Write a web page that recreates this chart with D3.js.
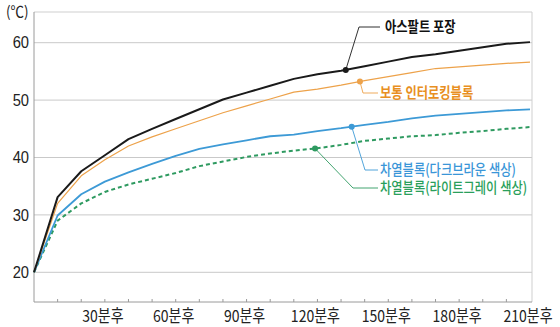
<!DOCTYPE html>
<html>
<head>
<meta charset="utf-8">
<script src="https://cdn.jsdelivr.net/npm/d3@7"></script>
<style>
  html, body { margin: 0; padding: 0; background: #fff; }
  svg { display: block; }
</style>
</head>
<body>
<div id="chart"></div>
<script>
// 시간(분) - 10분 간격
const minutes = [0, 10, 20, 30, 40, 50, 60, 70, 80, 90, 100, 110, 120, 130, 140, 150, 160, 170, 180, 190, 200, 210];

const asphalt = [20, 33.1, 37.6, 40.4, 43.2, 45.0, 46.7, 48.4, 50.1, 51.3, 52.5, 53.7, 54.5, 55.1, 55.9, 56.7, 57.5, 58.0, 58.6, 59.2, 59.8, 60.1];
const normalBlock = [20, 32.0, 36.8, 39.6, 42.0, 43.6, 45.0, 46.4, 47.8, 49.0, 50.2, 51.4, 51.9, 52.6, 53.4, 54.1, 54.8, 55.5, 55.8, 56.1, 56.4, 56.6];
const darkBrown = [20, 29.9, 33.6, 35.8, 37.4, 38.9, 40.3, 41.5, 42.3, 43.0, 43.7, 44.0, 44.6, 45.1, 45.7, 46.2, 46.8, 47.3, 47.6, 47.9, 48.2, 48.4];
const lightGray = [20, 29.0, 32.0, 34.0, 35.3, 36.3, 37.3, 38.5, 39.3, 40.1, 40.7, 41.2, 41.6, 42.2, 42.9, 43.3, 43.7, 43.9, 44.3, 44.6, 45.0, 45.3];

const yTicks = [20, 30, 40, 50, 60];
const xLabelTicks = [30, 60, 90, 120, 150, 180, 210];
const xMinorTicks = d3.range(10, 210, 10);

const seriesNames = ["아스팔트 포장", "보통 인터로킹블록", "차열블록(다크브라운 색상)", "차열블록(라이트그레이 색상)"];
const markerMinutes = [132, 138, 134.5, 119];

const width = 560, height = 327;
const plotLeft = 34, plotRight = 532, plotTop = 12, plotBottom = 302;

const svg = d3.select("#chart").append("svg")
  .attr("width", width)
  .attr("height", height);

const x = d3.scaleLinear().domain([0, 210]).range([plotLeft, 530]);
const y = d3.scaleLinear().domain([20, 60]).range([272.3, 42.7]);

const font = "'Liberation Sans', Arial, 'Noto Sans CJK KR', sans-serif";
const krFont = "'Noto Sans CJK KR', sans-serif";

// 격자
svg.append("g")
  .selectAll("line")
  .data(yTicks)
  .join("line")
  .attr("x1", plotLeft).attr("x2", plotRight)
  .attr("y1", d => y(d)).attr("y2", d => y(d))
  .attr("stroke", "#c9c9c9")
  .attr("stroke-width", 1);

// 테두리
svg.append("line").attr("x1", plotLeft).attr("x2", plotRight).attr("y1", plotTop).attr("y2", plotTop)
  .attr("stroke", "#cfcfcf");
svg.append("line").attr("x1", plotRight).attr("x2", plotRight).attr("y1", plotTop).attr("y2", plotBottom)
  .attr("stroke", "#cfcfcf");
svg.append("line").attr("x1", plotLeft).attr("x2", plotLeft).attr("y1", plotTop).attr("y2", plotBottom)
  .attr("stroke", "#9a9a9a");
svg.append("line").attr("x1", plotLeft).attr("x2", plotRight).attr("y1", plotBottom).attr("y2", plotBottom)
  .attr("stroke", "#9a9a9a");

// x 눈금
svg.append("g")
  .selectAll("line")
  .data(xMinorTicks)
  .join("line")
  .attr("x1", d => x(d)).attr("x2", d => x(d))
  .attr("y1", plotBottom).attr("y2", plotBottom - 3)
  .attr("stroke", "#9a9a9a");

// y 눈금 라벨
svg.append("g")
  .selectAll("text")
  .data(yTicks)
  .join("text")
  .attr("transform", d => `translate(29,${y(d)}) scale(0.92,1)`)
  .attr("dy", "0.36em")
  .attr("text-anchor", "end")
  .attr("font-family", font)
  .attr("font-size", 16)
  .attr("fill", "#222")
  .text(d => d);

svg.append("text")
  .attr("transform", "translate(6,12) scale(0.9,1)")
  .attr("dy", "0.36em")
  .attr("font-family", krFont)
  .attr("font-size", 15)
  .attr("fill", "#222")
  .text("(℃)");

// x 라벨
svg.append("g")
  .selectAll("text")
  .data(xLabelTicks)
  .join("text")
  .attr("transform", d => `translate(${x(d) - 2},316) scale(0.85,1)`)
  .attr("dy", "0.36em")
  .attr("text-anchor", "middle")
  .attr("font-family", krFont)
  .attr("font-size", 16.5)
  .attr("fill", "#222")
  .text(d => d + "분후");

// 선
const series = [
  { name: seriesNames[0], values: asphalt, color: "#1a1a1a", text: "#111", w: 2, dash: null },
  { name: seriesNames[1], values: normalBlock, color: "#eda24a", text: "#e88f22", w: 1.2, dash: null },
  { name: seriesNames[2], values: darkBrown, color: "#3d9ad6", text: "#3a96d8", w: 1.8, dash: null },
  { name: seriesNames[3], values: lightGray, color: "#2e9a60", text: "#2a9f5b", w: 2, dash: "4,3" }
];

const line = d3.line()
  .x((d, i) => x(minutes[i]))
  .y(d => y(d));

svg.append("g")
  .selectAll("path")
  .data(series.slice().reverse())
  .join("path")
  .attr("fill", "none")
  .attr("stroke", d => d.color)
  .attr("stroke-width", d => d.w)
  .attr("stroke-dasharray", d => d.dash)
  .attr("stroke-linejoin", "round")
  .attr("d", d => line(d.values));

// 주석
function valueAt(values, t) {
  const i = Math.min(Math.floor(t / 10), minutes.length - 2);
  const f = (t - minutes[i]) / 10;
  return values[i] + (values[i + 1] - values[i]) * f;
}

// 라벨 위치(레이아웃)
const labelPos = [
  { elbowX: 359, lineEnd: 380, textX: 385, labelY: 27 },
  { elbowX: 363, lineEnd: 378, textX: 380, labelY: 93 },
  { elbowX: 365, lineEnd: 378, textX: 380, labelY: 170 },
  { elbowX: 353, lineEnd: 378, textX: 380, labelY: 188 }
];

series.forEach((s, i) => {
  const t = markerMinutes[i];
  const mx = x(t), my = y(valueAt(s.values, t));
  const p = labelPos[i];
  const g = svg.append("g");
  g.append("polyline")
    .attr("points", `${mx},${my} ${p.elbowX},${p.labelY} ${p.lineEnd},${p.labelY}`)
    .attr("fill", "none")
    .attr("stroke", s.color)
    .attr("stroke-width", 0.9);
  g.append("circle")
    .attr("cx", mx).attr("cy", my).attr("r", 3)
    .attr("fill", s.color);
  g.append("text")
    .attr("transform", `translate(${p.textX},${p.labelY}) scale(0.82,1)`)
    .attr("dy", "0.36em")
    .attr("font-family", krFont)
    .attr("font-size", 15)
    .attr("font-weight", i < 2 ? 700 : 500)
    .attr("fill", s.text)
    .text(s.name);
});
</script>
</body>
</html>
